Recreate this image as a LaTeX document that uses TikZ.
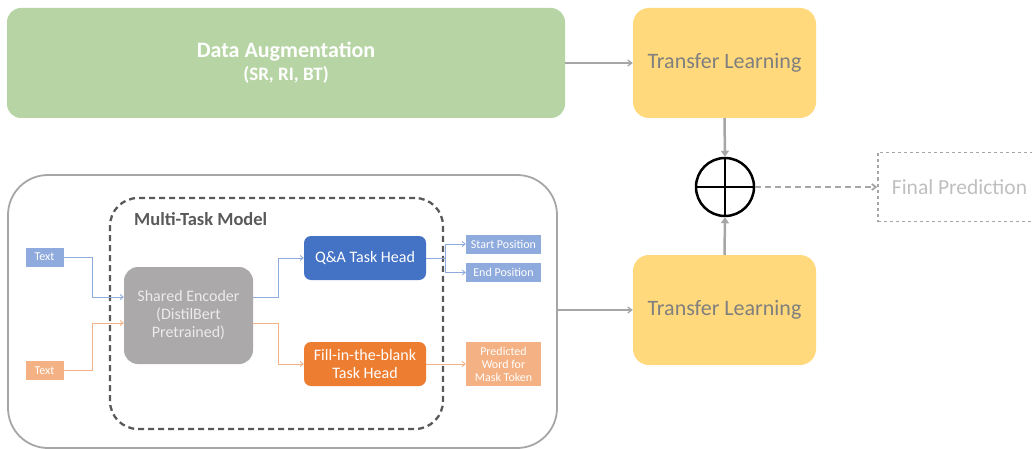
\documentclass[tikz,border=0pt]{standalone}
\usepackage{fontspec}
\setmainfont{Carlito}
\usetikzlibrary{arrows.meta}
\definecolor{augG}{HTML}{B7D5A4}
\definecolor{tlY}{HTML}{FFD97C}
\definecolor{tlT}{HTML}{7F7F7F}
\definecolor{ltB}{HTML}{8FAADC}
\definecolor{dkB}{HTML}{4472C4}
\definecolor{dkO}{HTML}{ED7D31}
\definecolor{ltO}{HTML}{F4B183}
\definecolor{encG}{HTML}{ABA9A9}
\definecolor{dashG}{HTML}{595959}
\definecolor{lineG}{HTML}{A6A6A6}
\definecolor{finT}{HTML}{BFBFBF}
\tikzset{
  box/.style={rectangle, inner sep=0pt, align=center},
  smalltxt/.style={text=white, font=\fontsize{12}{13}\selectfont},
  smallarr/.style={line width=0.9pt, -{Straight Barb[length=3pt,width=5pt]}},
  grayarr/.style={lineG, line width=1.3pt, -{Straight Barb[length=4pt,width=6pt]}},
  thickarr/.style={lineG, line width=2.5pt, -{Triangle[length=6pt,width=8pt]}},
}
\begin{document}
\begin{tikzpicture}[x=1pt,y=-1pt]
\useasboundingbox (0,0) rectangle (1032,449);
\clip (0,0) rectangle (1032,449);
% top row
\node[box, fill=augG, rounded corners=14pt, minimum width=558pt, minimum height=110pt,
  text=white, font=\fontsize{22}{24}\selectfont\bfseries] (aug) at (286,63)
  {\raisebox{-3pt}{Data Augmentation}\\[0pt]{\fontsize{19}{21}\selectfont\raisebox{-2pt}{(SR, RI, BT)}}};
\node[box, fill=tlY, rounded corners=16pt, minimum width=183pt, minimum height=110pt,
  text=tlT, font=\fontsize{22}{26}\selectfont] (tl1) at (724.5,63) {\raisebox{-3pt}{Transfer Learning}};
\node[box, fill=tlY, rounded corners=16pt, minimum width=183pt, minimum height=110pt,
  text=tlT, font=\fontsize{22}{26}\selectfont] (tl2) at (724.5,310) {\raisebox{-3pt}{Transfer Learning}};
\node[circle, draw=black, line width=2.5pt, minimum size=58pt, inner sep=0pt] (plus) at (725,187) {};
\draw[line width=2.5pt] (plus.north) -- (plus.south);
\draw[line width=2.5pt] (plus.west) -- (plus.east);
\node[box, draw=lineG, dashed, line width=1.5pt, minimum width=175pt, minimum height=69pt,
  text=finT, font=\fontsize{21.5}{24}\selectfont] (final) at (965.5,187)
  {Final Prediction\hspace*{12pt}};
% bottom container
\node[box, draw=lineG, line width=1.8pt, rounded corners=40pt, minimum width=549pt, minimum height=273pt] (outer) at (282.5,311.5) {};
\node[box, draw=dashG, dashed, dash pattern=on 6pt off 4pt, line width=2.3pt, rounded corners=28pt, minimum width=333pt, minimum height=231pt] (mtm) at (276.5,313.5) {};
\node[anchor=west, text=dashG, font=\fontsize{18.5}{21}\selectfont\bfseries, inner sep=0pt] (mtmlab) at (134,219) {Multi-Task Model};
\node[box, fill=ltB, minimum width=38pt, minimum height=19pt, smalltxt] (txt1) at (44.5,257) {Text};
\node[box, fill=ltO, minimum width=38pt, minimum height=19pt, smalltxt] (txt2) at (44.5,370.5) {Text};
\node[box, fill=encG, rounded corners=14pt, minimum width=129pt, minimum height=97pt, text=white!92!black, font=\fontsize{16}{18}\selectfont] (enc) at (188.5,315.5) {Shared Encoder\\(DistilBert\\Pretrained)};
\node[box, fill=dkB, rounded corners=7pt, minimum width=122pt, minimum height=44pt, text=white, font=\fontsize{16}{18}\selectfont] (qa) at (365,258) {Q\&A Task Head};
\node[box, fill=dkO, rounded corners=7pt, minimum width=122pt, minimum height=44pt, text=white, font=\fontsize{16}{18}\selectfont] (fill) at (365,364) {Fill-in-the-blank\\Task Head};
\node[box, fill=ltB, minimum width=75pt, minimum height=19pt, smalltxt] (start) at (503.5,244) {Start Position};
\node[box, fill=ltB, minimum width=75pt, minimum height=19pt, smalltxt] (endp) at (503.5,272.5) {End Position};
\node[box, fill=ltO, minimum width=75pt, minimum height=44pt, smalltxt] (pred) at (503.5,364) {Predicted\\Word for\\Mask Token};
% connectors
\draw[smallarr, ltB] (txt1.east) -- ++(29,0) |- ([yshift=18.5pt]enc.west);
\draw[smallarr, ltO] (txt2.east) -- ++(29,0) |- ([yshift=-7.5pt]enc.west);
\draw[smallarr, ltB] ([yshift=18.5pt]enc.east) -- ++(25,0) |- (qa.west);
\draw[smallarr, ltO] ([yshift=-7.5pt]enc.east) -- ++(25,0) |- (fill.west);
\draw[smallarr, ltB] (qa.east) -- ++(19,0) |- (start.west);
\draw[smallarr, ltB] (qa.east) -- ++(19,0) |- (endp.west);
\draw[smallarr, ltO] (fill.east) -- (pred.west);
\draw[grayarr] (aug.east) -- (tl1.west);
\draw[grayarr] (outer.east |- tl2.west) -- (tl2.west);
\draw[thickarr] (tl1.south) -- (plus.north);
\draw[thickarr] (tl2.north) -- (plus.south);
\draw[grayarr, line width=1.8pt, dashed, dash pattern=on 6pt off 4pt] (plus.east) -- (final.west);
\end{tikzpicture}
\end{document}
